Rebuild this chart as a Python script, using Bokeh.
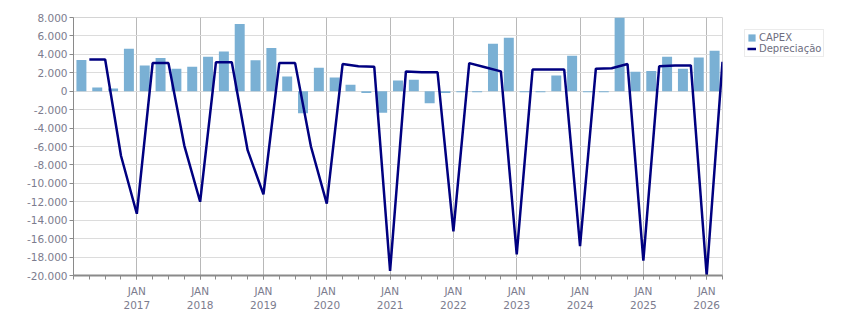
from bokeh.plotting import figure
from bokeh.layouts import row
from bokeh.models import ColumnDataSource, FixedTicker, Legend, LegendItem, Range1d
from bokeh.embed import file_html
from bokeh.resources import INLINE

# Quarterly series, Q1 2016 .. Q1 2026
quarters = [f"{y} T{q}" for y in range(2016, 2027) for q in (1, 2, 3, 4)][:41]

capex = [
    3400, 400, 300, 4600,
    2800, 3600, 2450, 2650,
    3750, 4300, 7300, 3350,
    4700, 1600, -2400, 2550,
    1500, 700, -200, -2350,
    1150, 1250, -1300, -200,
    -100, -100, 5150, 5800,
    -100, -100, 1700, 3850,
    -100, -100, 8100, 2100,
    2200, 3750, 2450, 3650,
    4400,
]

# Depreciation, booked at the end of each quarter
depreciacao = [
    3450, 3450, -7000, -13300,
    3050, 3050, -5900, -12000,
    3150, 3150, -6400, -11200,
    3050, 3050, -6000, -12200,
    2950, 2700, 2650, -19500,
    2150, 2050, 2050, -15200,
    3050, 2600, 2150, -17700,
    2350, 2350, 2350, -16800,
    2450, 2500, 2950, -18400,
    2700, 2800, 2800, -20000,
    3200,
]

years = list(range(2017, 2027))
x_tick_labels = [f"JAN\n{y}" for y in years]

y_ticks = list(range(-20000, 8001, 2000))
y_tick_labels = [
    "-20.000", "-18.000", "-16.000", "-14.000", "-12.000", "-10.000", "-8.000",
    "-6.000", "-4.000", "-2.000", "0", "2.000", "4.000", "6.000", "8.000",
]

FONT = "DejaVu Sans"
TEXT = "#7c7c8e"
BAR_COLOR = "#7ab0d4"
LINE_COLOR = "#000080"

n = len(quarters)
bar_src = ColumnDataSource(dict(x=[i + 0.5 for i in range(n)], capex=capex, q=quarters))
dep_src = ColumnDataSource(dict(x=[i + 1 for i in range(n)], dep=depreciacao, q=quarters))

p = figure(
    width=725, height=313,
    x_range=Range1d(0, n), y_range=Range1d(-20000, 8000),
    output_backend="svg", toolbar_location=None,
    min_border_left=73, min_border_right=3,
    min_border_top=17, min_border_bottom=35,
    background_fill_color="white", border_fill_color="white",
)
p.outline_line_color = "#d4d4d4"
p.outline_line_width = 1

p.vbar(x="x", top="capex", width=0.63, source=bar_src,
       fill_color=BAR_COLOR, line_color=None)
p.line(x="x", y="dep", source=dep_src, line_color=LINE_COLOR, line_width=2.5)

# x axis: years on the major ticks, quarters on the minor ones
year_ticks = [4 * (y - 2016) for y in years]
p.xaxis.ticker = FixedTicker(ticks=year_ticks, minor_ticks=list(range(0, n + 1)))
p.xaxis.major_label_overrides = {t: lab for t, lab in zip(year_ticks, x_tick_labels)}
p.xaxis.axis_line_color = "#8a8a8a"
p.xaxis.axis_line_width = 2
p.xaxis.major_tick_line_color = "#8a8a8a"
p.xaxis.minor_tick_line_color = "#8a8a8a"
p.xaxis.major_tick_in = 0
p.xaxis.major_tick_out = 4
p.xaxis.minor_tick_in = 0
p.xaxis.minor_tick_out = 4
p.xaxis.major_label_standoff = 5

p.yaxis.ticker = FixedTicker(ticks=y_ticks, minor_ticks=[])
p.yaxis.major_label_overrides = {t: lab for t, lab in zip(y_ticks, y_tick_labels)}
p.yaxis.axis_line_color = "#8a8a8a"
p.yaxis.major_tick_line_color = "#8a8a8a"
p.yaxis.major_tick_in = 0
p.yaxis.major_tick_out = 4
p.yaxis.major_label_standoff = 2

for ax in (p.xaxis, p.yaxis):
    ax.major_label_text_font = FONT
    ax.major_label_text_font_size = "10.5px"
    ax.major_label_text_color = TEXT

p.xgrid.grid_line_color = "#b8b8b8"
p.xgrid.grid_line_width = 1
p.ygrid.grid_line_color = "#dcdcdc"
p.ygrid.grid_line_width = 1

# legend panel to the right of the chart; its key glyphs sit outside its own range
leg = figure(
    width=126, height=313,
    x_range=Range1d(0, 1), y_range=Range1d(0, 1),
    x_axis_location=None, y_axis_location=None,
    output_backend="svg", toolbar_location=None,
    min_border=0, outline_line_color=None,
    background_fill_color="white", border_fill_color="white",
)
leg.xgrid.visible = False
leg.ygrid.visible = False
key_bar = leg.vbar(x=[5], top=[5], bottom=[4], width=0.5, fill_color=BAR_COLOR, line_color=None)
key_line = leg.line(x=[5, 6], y=[5, 5], line_color=LINE_COLOR, line_width=2.5)

legend = Legend(
    items=[LegendItem(label="CAPEX", renderers=[key_bar]),
           LegendItem(label="Depreciação", renderers=[key_line])],
    location=(19, 218),
    border_line_color="#d8d8d8", border_line_width=1,
    background_fill_color="white", background_fill_alpha=1,
    padding=2, spacing=0, margin=0,
    glyph_width=9, glyph_height=9, label_height=9, label_standoff=3,
    label_text_font=FONT, label_text_font_size="10px", label_text_color="#6e6e80",
)
leg.add_layout(legend)

layout = row(p, leg)
open("out.html", "w").write(file_html(layout, INLINE))
